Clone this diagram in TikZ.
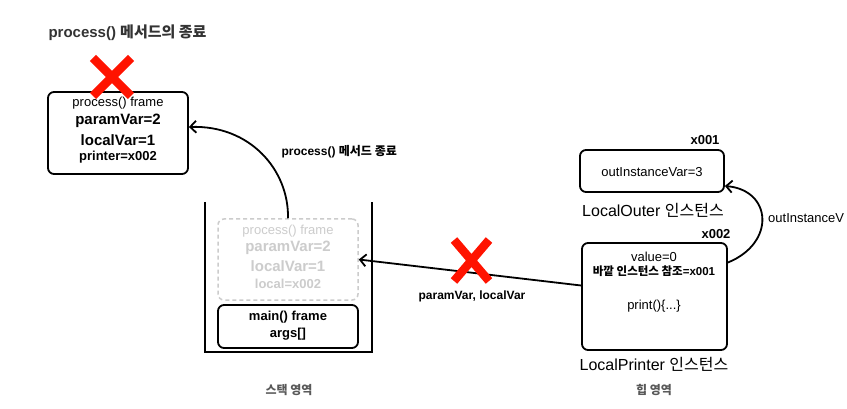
\documentclass[tikz,border=0pt]{standalone}
\usepackage{fontspec}
\setmainfont{Liberation Sans}
\newfontfamily\kr{Noto Sans CJK KR}
\usetikzlibrary{arrows.meta}

\tikzset{
    box/.style={draw, line width=1.8pt, rounded corners=6pt},
    ghost/.style={draw=black!20, dash pattern=on 4pt off 3pt, line width=1.5pt, rounded corners=6pt},
    small/.style={font=\fontsize{13}{15}\selectfont},
    big/.style={font=\bfseries\fontsize{15}{17}\selectfont},
    mid/.style={font=\bfseries\fontsize{13}{15}\selectfont},
    lbl/.style={font=\bfseries\fontsize{12}{14}\selectfont},
    inst/.style={font=\fontsize{16}{18}\selectfont},
    area/.style={font=\bfseries\fontsize{12}{14}\selectfont, text=black!65},
    cross/.style={draw=red!85!orange, line width=8.5pt},
    link/.style={->, line width=1.8pt},
}

\begin{document}
\begin{tikzpicture}[x=1pt, y=-1pt, >={Straight Barb[length=6pt,width=12pt]}]
    \clip (0,0) rectangle (847,409);
    \fill[white] (0,0) rectangle (847,409);
    \node[anchor=west, font=\bfseries\fontsize{15}{17}\selectfont, text=black!80] (title) at (45,33) {process() {\kr 메서드의 종료}};
    % process() frame, taken off the stack
    \node[box, minimum width=140pt, minimum height=82pt] (proc) at (118,133) {};
    \node[small] (p1) at (118,103) {process() frame};
    \node[big] (p2) at (118,121) {paramVar=2};
    \node[big] (p3) at (118,140) {localVar=1};
    \node[mid] (p4) at (118,157) {printer=x002};
    \draw[cross] (93,58) -- (131,96) (131,58) -- (93,96);
    % stack
    \draw[line width=1.8pt] (205,202) -- (205,352) -- (372,352) -- (372,202);
    \node[ghost, minimum width=140pt, minimum height=81pt] (ghost) at (288,259.5) {};
    \node[small, text=black!20] (g1) at (288,231) {process() frame};
    \node[big, text=black!20] (g2) at (288,248) {paramVar=2};
    \node[big, text=black!20] (g3) at (288,266) {localVar=1};
    \node[mid, text=black!20] (g4) at (288,284) {local=x002};
    \node[box, minimum width=140pt, minimum height=43pt] (main) at (288,326.5) {};
    \node[mid] (m1) at (288,317) {main() frame};
    \node[mid] (m2) at (288,334) {args[]};
    \node[area] (stack) at (289,390) {{\kr 스택 영역}};
    % heap
    \node[mid] (a1) at (705,140) {x001};
    \node[box, minimum width=144pt, minimum height=42pt] (outer) at (652,171) {};
    \node[small] (o1) at (652,172) {outInstanceVar=3};
    \node[inst] (outname) at (653,210) {LocalOuter {\kr 인스턴스}};
    \node[mid] (a2) at (716,234) {x002};
    \node[box, minimum width=145pt, minimum height=107pt] (printer) at (654.5,296.5) {};
    \node[small] (r1) at (654,257) {value=0};
    \node[font=\bfseries\fontsize{11.5}{13}\selectfont] (r2) at (654,271) {{\kr 바깥 인스턴스 참조}=x001};
    \node[small] (r3) at (654,306) {print()\{...\}};
    \node[inst] (prname) at (654,364) {LocalPrinter {\kr 인스턴스}};
    \node[area] (heap) at (654,390) {{\kr 힙 영역}};
    % references
    \draw[link] (ghost.north) .. controls (289,170) and (250,125) .. ([yshift=6pt]proc.east);
    \node[lbl, anchor=west] (ret) at (278,152) {process() {\kr 메서드 종료}};
    \draw[link] ([yshift=11pt]printer.west) -- (ghost.east);
    \node[lbl] (pv) at (472,296) {paramVar, localVar};
    \draw[cross] (454,240) -- (489,281) (489,240) -- (454,281);
    \draw[link] ([yshift=34pt]printer.east) .. controls (776,243) and (772,190) .. ([yshift=-15pt]outer.east);
    \node[small, anchor=west, inner sep=1pt] (ov) at (767,218) {outInstanceV};
\end{tikzpicture}
\end{document}
